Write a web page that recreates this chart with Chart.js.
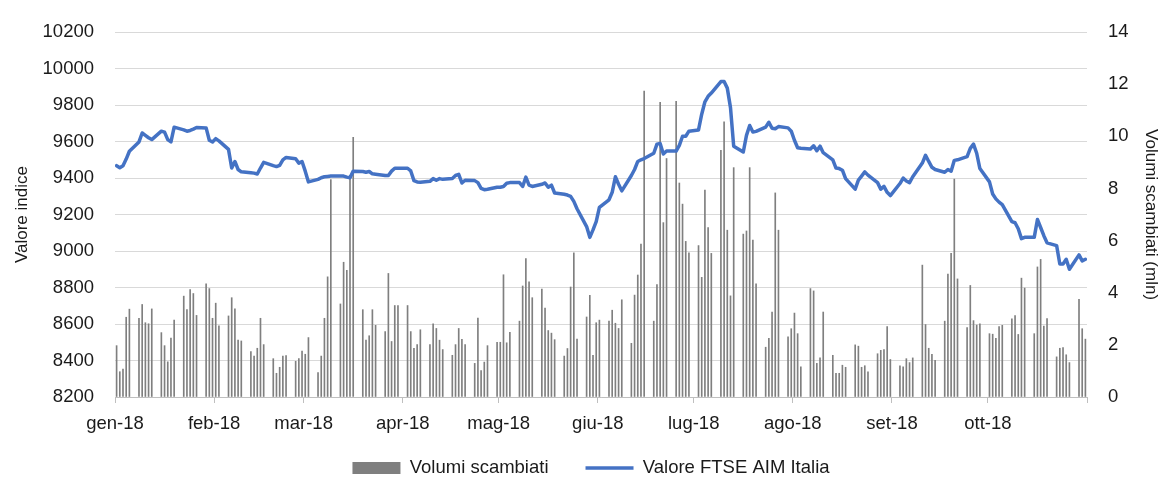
<!DOCTYPE html>
<html>
<head>
<meta charset="utf-8">
<script src="https://cdn.jsdelivr.net/npm/chart.js@4.4.1/dist/chart.umd.min.js"></script>
<style>
html,body{margin:0;padding:0;background:#fff;}
#wrap{width:1164px;height:481px;position:relative;}
</style>
</head>
<body>
<div id="wrap"><canvas id="c" width="1164" height="481"></canvas></div>
<script>
// ---- Data ----
const serieVolumi = 'Volumi scambiati';
const serieValore = 'Valore FTSE AIM Italia';
const titoloSinistra = 'Valore indice';
const titoloDestra = 'Volumi scambiati (mln)';

// month tick labels and the day-of-year (from 1 Jan 2018) where each month starts
const mesi = ['gen-18','feb-18','mar-18','apr-18','mag-18','giu-18','lug-18','ago-18','set-18','ott-18'];
const inizioMese = [0,31,59,90,120,151,181,212,243,273,304];

// left axis (index) and right axis (volumes, mln) ranges
const asseIndice = {min: 8200, max: 10200, step: 200};
const asseVolumi = {min: 0, max: 14, step: 2};

// one value per weekday, from Mon 1 Jan 2018 to Wed 31 Oct 2018
const valore = [
  9468,9457,9468,9504,9547,
  9598,9647,9634,9621,9611,
  9657,9652,9611,9598,9679,
  9664,9657,9661,9668,9677,
  9675,9607,9598,9616,9604,
  9557,9455,9491,9447,9434,
  9429,9427,9422,9455,9486,
  9468,9463,9470,9500,9513,
  9506,9482,9491,9438,9379,
  9393,9402,9407,9409,9411,
  9411,9411,9405,9402,9438,
  9436,9432,9436,9423,9421,
  9414,9414,9438,9454,9454,
  9454,9439,9386,9379,9377,
  9382,9397,9388,9397,9393,
  9398,9414,9420,9373,9388,
  9386,9375,9343,9336,9339,
  9350,9350,9354,9372,9375,
  9375,9354,9405,9361,9354,
  9366,9373,9350,9361,9318,
  9311,9307,9300,9272,9232,
  9134,9075,9116,9161,9239,
  9281,9322,9407,9366,9330,
  9414,9447,9491,9500,9507,
  9536,9586,9589,9532,9548,
  9548,9579,9629,9629,9657,
  9664,9750,9818,9848,9866,
  9929,9929,9893,9786,9575,
  9543,9634,9688,9652,9656,
  9679,9706,9673,9670,9682,
  9675,9657,9607,9566,9563,
  9559,9577,9550,9575,9539,
  9500,9455,9452,9443,9397,
  9339,9389,9411,9434,9416,
  9375,9339,9354,9322,9304,
  9370,9400,9384,9375,9407,
  9482,9525,9491,9459,9447,
  9432,9447,9438,9497,9500,
  9518,9563,9586,9536,9452,
  9379,9313,9286,9268,9254,
  9161,9155,9122,9068,9075,
  9075,9173,9129,9084,9045,
  9030,8929,8929,8955,8900,
  8979,8946,8955
];

const volumi = [
  1.97,0.97,1.07,3.06,3.37,
  3.02,3.55,2.85,2.81,3.38,
  2.47,1.97,1.35,2.26,2.95,
  3.87,3.35,4.12,3.97,3.13,
  4.34,4.16,3.02,3.60,2.73,
  3.11,3.81,3.38,2.18,2.15,
  1.74,1.57,1.87,3.02,2.01,
  1.47,0.91,1.14,1.57,1.59,
  1.37,1.47,1.76,1.64,2.28,
  0.94,1.57,3.02,4.61,8.34,
  3.57,5.17,4.86,8.36,9.96,
  3.35,2.18,2.35,3.35,2.75,
  2.51,4.74,2.13,3.51,3.51,
  3.51,2.51,1.87,2.01,2.58,
  2.01,2.81,2.63,2.18,1.82,
  1.60,2.01,2.63,2.21,2.01,
  1.29,3.03,1.01,1.34,1.97,
  2.10,2.10,4.69,2.08,2.48,
  2.91,4.26,5.31,4.42,3.81,
  4.14,3.41,2.55,2.45,2.20,
  1.57,1.86,4.22,5.53,2.22,
  3.07,3.90,1.60,2.85,2.95,
  2.91,3.33,2.83,2.63,3.73,
  2.06,3.91,4.68,5.87,11.74,
  2.91,4.31,11.31,6.69,9.15,
  11.34,8.21,7.40,5.97,5.53,
  5.81,4.59,7.94,6.50,5.51,
  9.46,10.56,6.40,3.88,8.80,
  6.25,6.37,8.80,6.02,4.34,
  1.91,2.25,3.26,7.83,6.40,
  2.31,2.62,3.22,2.43,1.16,
  4.16,4.07,1.29,1.50,3.26,
  1.60,0.91,0.91,1.22,1.14,
  2.00,1.95,1.14,1.20,0.97,
  1.66,1.79,1.82,2.70,1.44,
  1.20,1.16,1.47,1.32,1.50,
  5.06,2.78,1.87,1.64,1.41,
  2.91,4.72,5.51,8.36,4.53,
  2.66,4.28,2.93,2.76,2.81,
  2.43,2.41,2.25,2.70,2.75,
  3.00,3.12,2.40,4.56,4.18,
  2.43,4.99,5.28,2.72,3.01,
  1.54,1.87,1.90,1.62,1.32,
  3.75,2.62,2.22
];

// ---- Calendar: weekday positions (day offset from 1 Jan, centred in the day slot) ----
const giorni = valore.map((_, i) => Math.floor(i / 5) * 7 + (i % 5) + 0.5);

// ---- Styling / layout ----
const FAM = "'Liberation Sans', Arial, sans-serif";
const FS = 18.5;     // ticks and legend
const FT = 17;       // axis titles
const TXT = '#1a1a1a';
const LEG_PAD = 37;          // gap between legend items
const LEG_Y = 468;           // legend text centre
const X_AXIS_H = 40;
const padLeft = 18;
const legendH = FS + LEG_PAD + 10;
const padBottom = 481 - 397 - X_AXIS_H - legendH;

const blu = '#4472C4';
const grigio = '#7f7f7f';

const legendPos = {
  id: 'legendPos',
  afterLayout(chart) {
    const L = chart.legend;
    if (!L) return;
    const h = L.height;
    L.top = LEG_Y - FS / 2 - LEG_PAD;
    L.bottom = L.top + h;
  }
};

new Chart(document.getElementById('c'), {
  type: 'bar',
  plugins: [legendPos],
  data: {
    datasets: [
      {
        type: 'line',
        label: serieValore,
        data: giorni.map((d, i) => ({x: d, y: valore[i]})),
        yAxisID: 'y',
        borderColor: blu,
        backgroundColor: blu,
        borderWidth: 3.5,
        pointRadius: 0,
        tension: 0,
        borderJoinStyle: 'round',
        borderCapStyle: 'round',
        order: 0
      },
      {
        type: 'bar',
        label: serieVolumi,
        data: giorni.map((d, i) => ({x: d, y: volumi[i]})),
        yAxisID: 'y1',
        backgroundColor: grigio,
        borderWidth: 0,
        barThickness: 1,
        order: 1
      }
    ]
  },
  options: {
    responsive: false,
    devicePixelRatio: 1,
    animation: false,
    layout: {padding: {left: padLeft, right: 0, top: 23, bottom: padBottom}},
    plugins: {
      tooltip: {enabled: false},
      legend: {
        position: 'bottom',
        align: 'center',
        labels: {
          usePointStyle: true,
          pointStyleWidth: 48,
          boxHeight: 12,
          padding: LEG_PAD,
          color: TXT,
          font: {family: FAM, size: FS},
          generateLabels: () => [
            {text: serieVolumi, fillStyle: grigio, strokeStyle: grigio, lineWidth: 0, pointStyle: 'rect', datasetIndex: 1, fontColor: TXT},
            {text: serieValore, fillStyle: blu, strokeStyle: blu, lineWidth: 3.5, pointStyle: 'line', datasetIndex: 0, fontColor: TXT}
          ]
        }
      }
    },
    scales: {
      x: {
        type: 'linear',
        min: inizioMese[0],
        max: inizioMese[inizioMese.length - 1],
        offset: false,
        afterBuildTicks: s => { s.ticks = inizioMese.map(v => ({value: v})); },
        afterFit: s => { s.height = X_AXIS_H; },
        grid: {drawOnChartArea: false, drawTicks: true, tickLength: 6, color: '#bfbfbf', offset: false},
        border: {display: true, color: '#bfbfbf', width: 1},
        ticks: {
          autoSkip: false,
          maxRotation: 0,
          padding: 10,
          color: TXT,
          font: {family: FAM, size: FS},
          callback: v => { const k = inizioMese.indexOf(v); return k >= 0 && k < mesi.length ? mesi[k] : ''; }
        }
      },
      y: {
        position: 'left',
        min: asseIndice.min,
        max: asseIndice.max,
        afterFit: s => { s.width = 115 - padLeft; },
        ticks: {stepSize: asseIndice.step, padding: 21, color: TXT, font: {family: FAM, size: FS}, callback: v => String(v)},
        grid: {color: '#d9d9d9', lineWidth: 1, drawTicks: false},
        border: {display: false},
        title: {display: true, text: titoloSinistra, color: TXT, font: {family: FAM, size: FT}, padding: {top: -6, bottom: 0}}
      },
      y1: {
        position: 'right',
        min: asseVolumi.min,
        max: asseVolumi.max,
        afterFit: s => { s.width = 77; },
        ticks: {stepSize: asseVolumi.step, padding: 21, color: TXT, font: {family: FAM, size: FS}, callback: v => String(v)},
        grid: {drawOnChartArea: false, drawTicks: false},
        border: {display: false},
        title: {display: true, text: titoloDestra, color: TXT, font: {family: FAM, size: FT}, padding: {top: 3, bottom: 0}}
      }
    }
  }
});
</script>
</body>
</html>
